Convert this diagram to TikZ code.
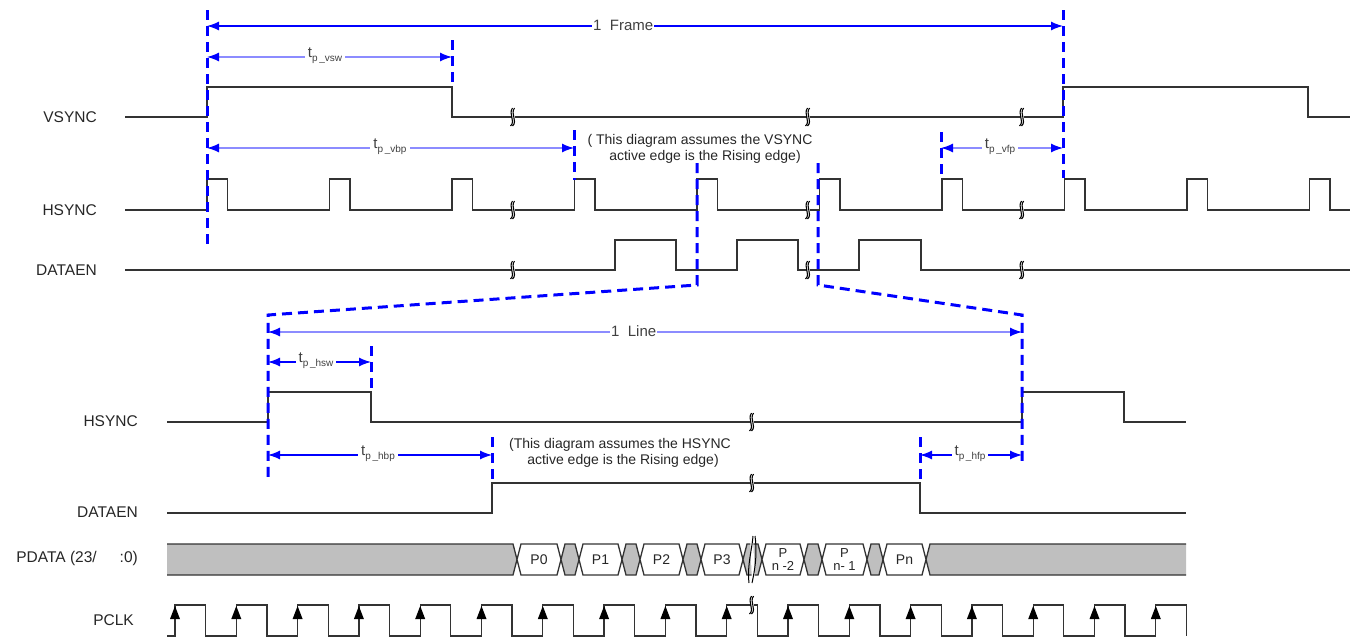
\documentclass[tikz,border=0pt]{standalone}
\usepackage{fontspec}
\setmainfont{Liberation Sans}
\usetikzlibrary{arrows.meta}
\newcommand\brkmark[2]{%
 \fill[white] (#1-1.5,#2-6) rectangle (#1+1.5,#2+6);
 \draw[black,line width=1.1pt] (#1-2.5,#2+9) .. controls (#1+3,#2+4) and (#1-5,#2-3) .. (#1-0.5,#2-9);
 \draw[black,line width=1.1pt] (#1-0.5,#2+9) .. controls (#1+5,#2+4) and (#1-3,#2-3) .. (#1+1.5,#2-9);}
\newcommand\tpl[1]{t\raisebox{-4pt}{\fontsize{10}{10}\selectfont p\,\_#1}}
\begin{document}
\begin{tikzpicture}[x=1pt,y=-1pt,
 sig/.style={draw=black!80,line width=1.3pt,line join=miter},
 vdash/.style={draw=blue,line width=3pt,dash pattern=on 10pt off 6pt},
 dimA/.style={draw=blue,line width=1.3pt,{Latex[length=12pt,width=9pt,color=blue]}-{Latex[length=12pt,width=9pt,color=blue]}},
 dimB/.style={dimA,draw=blue!45},
 lab/.style={font=\fontsize{15.5}{18}\selectfont,anchor=east,inner sep=0pt,text=black!85},
 tl/.style={fill=white,inner xsep=3pt,inner ysep=1pt,font=\fontsize{15}{18}\selectfont,text=black!75},
 note/.style={font=\fontsize{14}{16}\selectfont,inner sep=0pt,text=black!85},
 cell/.style={font=\fontsize{14}{14}\selectfont,inner sep=0pt,text=black!85,align=center}
]
\useasboundingbox (0,0) rectangle (1354,637);

% ---------- labels ----------
\node[lab] (lv) at (97,117) {VSYNC};
\node[lab] (lh1) at (97,210) {HSYNC};
\node[lab] (ld1) at (97,270) {DATAEN};
\node[lab] (lh2) at (138,421) {HSYNC};
\node[lab] (ld2) at (138,512) {DATAEN};
\node[lab] (lp1) at (97,558) {PDATA (23/};
\node[lab] (lp2) at (138,558) {:0)};
\node[lab] (lc) at (134,620) {PCLK};

% ---------- top waveforms ----------
\draw[sig] (125,117) -- (207,117) -- (207,87) -- (452,87) -- (452,117) -- (1063,117) -- (1063,87) -- (1308,87) -- (1308,117) -- (1350,117);
\draw[sig] (125,210) \foreach \k in {0,...,9} { -- ({207+122.5*\k},210) -- ({207+122.5*\k},179) -- ({227.5+122.5*\k},179) -- ({227.5+122.5*\k},210) } -- (1350,210);
\draw[sig] (125,270) -- (615,270) -- (615,240) -- (676,240) -- (676,270) -- (737,270) -- (737,240) -- (798,240) -- (798,270) -- (859,270) -- (859,240) -- (921,240) -- (921,270) -- (1350,270);
\foreach \x in {513,808,1022} {\brkmark{\x}{117}\brkmark{\x}{210}\brkmark{\x}{270}}

% ---------- lower waveforms ----------
\draw[sig] (167,422) -- (268,422) -- (268,392) -- (371,392) -- (371,422) -- (1022,422) -- (1022,392) -- (1124,392) -- (1124,422) -- (1186,422);
\draw[sig] (167,513) -- (492,513) -- (492,483) -- (920,483) -- (920,513) -- (1186,513);
\brkmark{752}{422}
\brkmark{752}{483}

% PDATA
\fill[gray!50] (167,544) -- (513,544) -- (517,559.5) -- (513,575) -- (167,575) -- cycle;
\draw[sig] (167,544) -- (513,544) -- (517,559.5) -- (513,575) -- (167,575);
\fill[gray!50] (926,559.5) -- (930,544) -- (1186,544) -- (1186,575) -- (930,575) -- cycle;
\draw[sig] (1186,544) -- (930,544) -- (926,559.5) -- (930,575) -- (1186,575);
\foreach \a/\b/\c in {517/561/white,561/579/gray!50,579/622/white,622/640/gray!50,640/683/white,683/701/gray!50,701/743/white,743/762/gray!50,762/804/white,804/822/gray!50,822/867/white,867/883/gray!50,883/926/white}
 {\filldraw[sig,fill=\c] (\a,559.5) -- (\a+4,544) -- (\b-4,544) -- (\b,559.5) -- (\b-4,575) -- (\a+4,575) -- cycle;}
\node[cell] (c0) at (539,560) {P0};
\node[cell] (c1) at (600.5,560) {P1};
\node[cell] (c2) at (661.5,560) {P2};
\node[cell] (c3) at (722,560) {P3};
\node[cell,font=\fontsize{13}{13}\selectfont] (c4) at (783,560) {P\\n -2};
\node[cell,font=\fontsize{13}{13}\selectfont] (c5) at (844.5,560) {P\\n- 1};
\node[cell] (c6) at (904.5,560) {Pn};
\fill[white] (750,536) -- (753,536) -- (755,583) -- (752,583) -- cycle;
\draw[black,line width=1pt] (749,583) .. controls (747,565) and (752,550) .. (753,536);
\draw[black,line width=1pt] (752,583) .. controls (756,565) and (757,550) .. (755,536);

% PCLK
\draw[sig] (167,636) -- (175,636) \foreach \k in {0,...,16} { -- ({175+61.3*\k},636) -- ({175+61.3*\k},605) -- ({205.6+61.3*\k},605) -- ({205.6+61.3*\k},636) };
\foreach \k in {0,...,16} \fill[black] ({175+61.3*\k},606) -- ++(-5,13) -- ++(10,0) -- cycle;
\brkmark{752}{605}

% ---------- blue dashed markers ----------
\draw[vdash] (207,10) -- (207,248);
\draw[vdash] (452,40) -- (452,87);
\draw[vdash] (574,130) -- (574,180);
\draw[vdash] (1063,10) -- (1063,178);
\draw[vdash] (941,132) -- (941,178);
\draw[vdash] (697,163) -- (697,285) -- (268,315) -- (268,478);
\draw[vdash] (818,163) -- (818,285) -- (1022,315) -- (1022,463);
\draw[vdash] (371,346) -- (371,392);
\draw[vdash] (492,437) -- (492,480);
\draw[vdash] (920,437) -- (920,480);

% ---------- dimension arrows ----------
\coordinate (f1) at (207,26); \coordinate (f2) at (1063,26);
\draw[dimA] (f1) -- (f2);
\node[tl,anchor=west,inner xsep=1pt] (tf) at (592,25) {1\ \ Frame\hspace{16pt}};
\coordinate (v1) at (207,57); \coordinate (v2) at (452,57);
\draw[dimB] (v1) -- (v2);
\node[tl] (tvsw) at (325,56) {\tpl{vsw}};
\coordinate (b1) at (207,148); \coordinate (b2) at (574,148);
\draw[dimB] (b1) -- (b2);
\node[tl] (tvbp) at (390,147) {\tpl{vbp}};
\coordinate (p1) at (941,148); \coordinate (p2) at (1063,148);
\draw[dimB] (p1) -- (p2);
\node[tl] (tvfp) at (1000,147) {\tpl{vfp}};

\coordinate (l1) at (268,332); \coordinate (l2) at (1022,332);
\draw[dimB] (l1) -- (l2);
\node[tl,anchor=west,inner xsep=1pt] (tline) at (610,331) {1\ \ Line\hspace{14pt}};
\coordinate (h1) at (268,362); \coordinate (h2) at (371,362);
\draw[dimA] (h1) -- (h2);
\node[tl] (thsw) at (316,361) {\tpl{hsw}};
\coordinate (hb1) at (268,455); \coordinate (hb2) at (492,455);
\draw[dimA] (hb1) -- (hb2);
\node[tl] (thbp) at (378,454) {\tpl{hbp}};
\coordinate (hf1) at (920,455); \coordinate (hf2) at (1022,455);
\draw[dimA] (hf1) -- (hf2);
\node[tl] (thfp) at (970,454) {\tpl{hfp}};

% ---------- notes ----------
\node[note] (n1a) at (700,141) {( This diagram assumes the VSYNC};
\node[note] (n1b) at (705,157) {active edge is the Rising edge)};
\node[note] (n2a) at (620,445) {(This diagram assumes the HSYNC};
\node[note] (n2b) at (623,461) {active edge is the Rising edge)};
\end{tikzpicture}
\end{document}
